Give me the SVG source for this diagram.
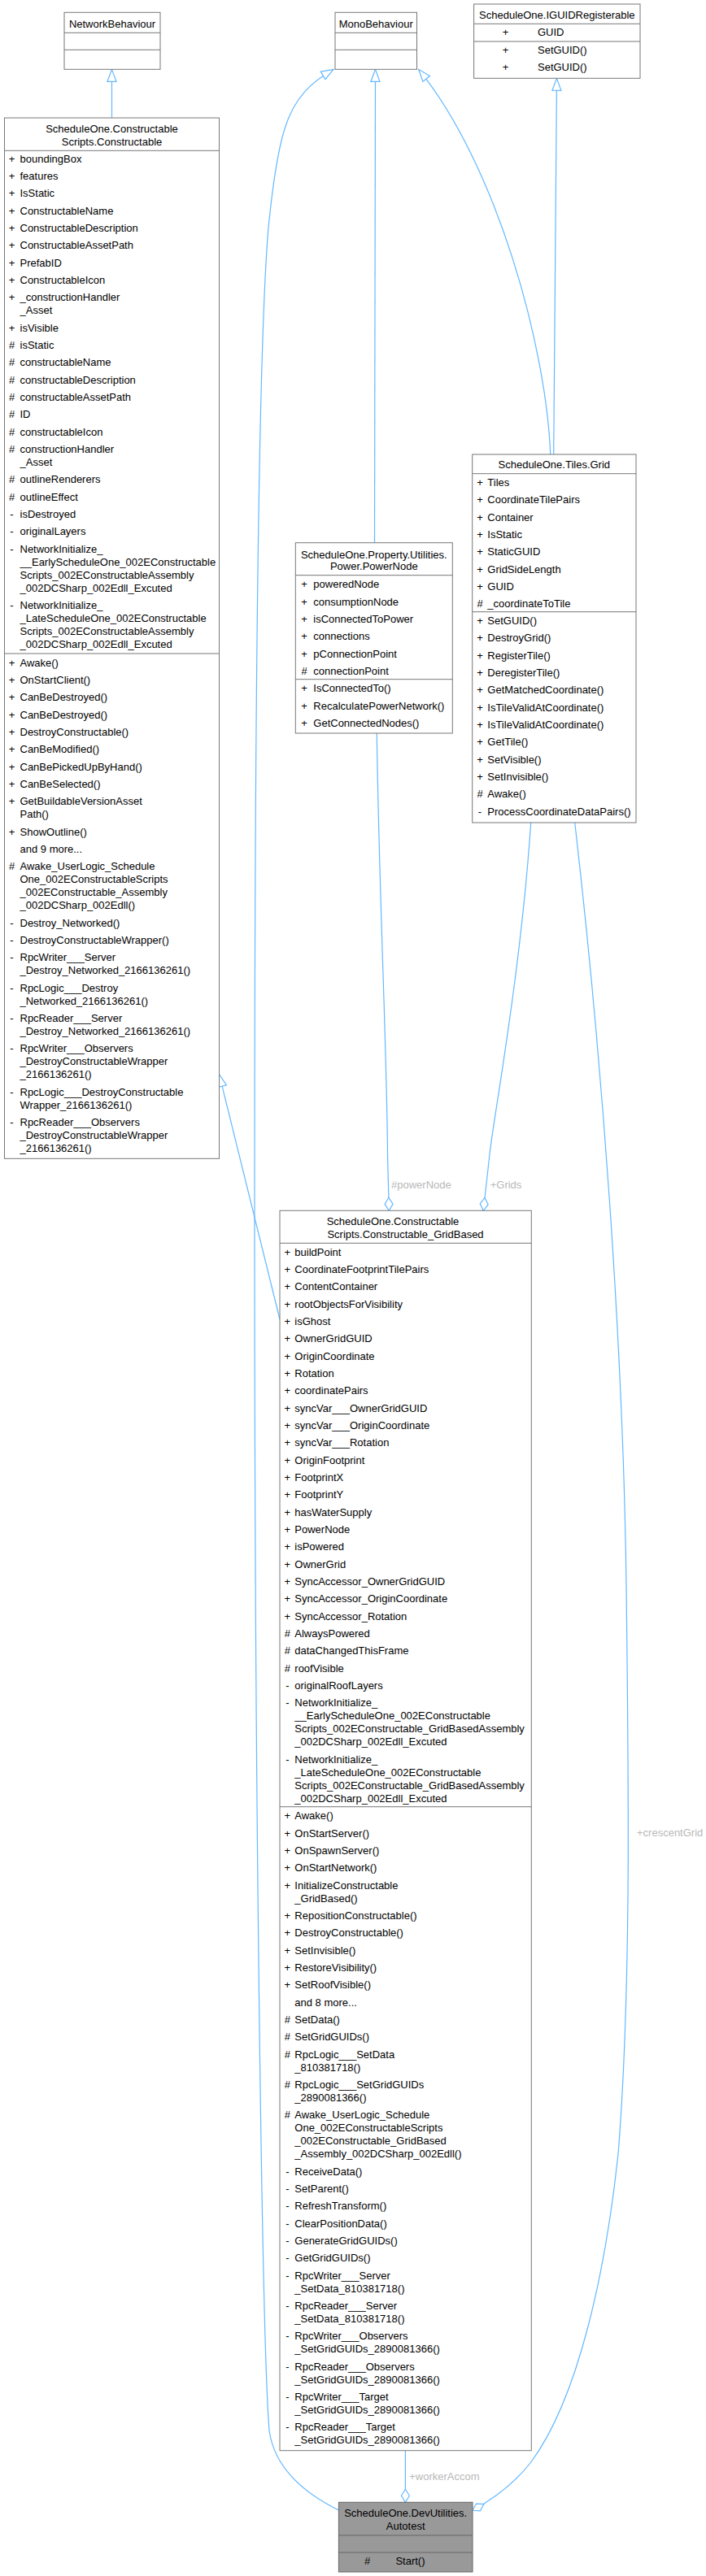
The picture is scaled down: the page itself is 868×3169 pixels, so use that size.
<svg xmlns="http://www.w3.org/2000/svg" width="868" height="3169" viewBox="0 0 868 3169">
<style>
.bx{fill:#fff;stroke:#777;stroke-width:1}
.bxh{fill:#999;stroke:#666;stroke-width:1}
.sp{stroke:#777;stroke-width:1}
text{font-family:"Liberation Sans",Arial,sans-serif;font-size:13px;fill:#000;dominant-baseline:central}
.c{text-anchor:middle}
.e{fill:none;stroke:#63b8ff;stroke-width:1.2}
.lb{fill:#b8b8b8}
</style>
<defs>
<marker id="tri" markerUnits="userSpaceOnUse" viewBox="-1 -1 17 13" markerWidth="17" markerHeight="13" refX="15" refY="5.5" orient="auto"><path d="M0,0 L15,5.5 L0,11 Z" fill="#fff" stroke="#63b8ff" stroke-width="1.2"/></marker>
<marker id="dia" markerUnits="userSpaceOnUse" viewBox="-1 -1 18 12" markerWidth="18" markerHeight="12" refX="16" refY="5" orient="auto"><path d="M0,5 L8,0 L16,5 L8,10 Z" fill="#fff" stroke="#63b8ff" stroke-width="1.2"/></marker>
</defs>

<g id="edges">
<path class="e" d="M137.5,145 L137.5,85.3" marker-end="url(#tri)"/>
<path class="e" d="M460.5,667.7 L461.5,85.3" marker-end="url(#tri)"/>
<path class="e" d="M676.7,559 C672,430 612,205 514.7,85.3" marker-end="url(#tri)"/>
<path class="e" d="M680.7,559 L684.5,96.3" marker-end="url(#tri)"/>
<path class="e" d="M344,1623 L269.5,1321.7" marker-end="url(#tri)"/>
<path class="e" d="M416.4,3088 C380,3070 338,3040 331,2990 C322,2880 313,2200 313,1500 C313,900 318,420 330,280 C336,220 342,185 349.5,160 C362,118 385,100 410,85.3" marker-end="url(#tri)"/>
<path class="e" d="M463.3,902 C466,1100 476,1300 476.5,1420 L478.3,1489.3" marker-end="url(#dia)"/>
<path class="e" d="M652.7,1012 C640,1200 606,1380 602,1420 L594.3,1489.3" marker-end="url(#dia)"/>
<path class="e" d="M498.4,3014.7 L498.4,3078.3" marker-end="url(#dia)"/>
<path class="e" d="M706.7,1012 C740,1300 766,1650 770,1950 C773,2200 776,2450 760,2650 C745,2790 712,2950 652,3030 C630,3058 605,3075 581,3088.3" marker-end="url(#dia)"/>
<text class="lb" x="481" y="1457.3">#powerNode</text>
<text class="lb" x="602.7" y="1457.3">+Grids</text>
<text class="lb" x="503.2" y="3046.7">+workerAccom</text>
<text class="lb" x="783" y="2254">+crescentGrid</text>
</g>

<g id="NetworkBehaviour">
<rect class="bx" x="79" y="15.3" width="118" height="70"/>
<line class="sp" x1="79" y1="40.3" x2="197" y2="40.3"/>
<line class="sp" x1="79" y1="61.3" x2="197" y2="61.3"/>
<text class="c" x="138" y="29">NetworkBehaviour</text>
</g>

<g id="MonoBehaviour">
<rect class="bx" x="412" y="15.3" width="100.5" height="70"/>
<line class="sp" x1="412" y1="40.3" x2="512.5" y2="40.3"/>
<line class="sp" x1="412" y1="61.3" x2="512.5" y2="61.3"/>
<text class="c" x="462.2" y="29">MonoBehaviour</text>
</g>

<g id="IGUIDRegisterable">
<rect class="bx" x="582.6" y="5" width="204.4" height="91.3"/>
<line class="sp" x1="582.6" y1="29.3" x2="787" y2="29.3"/>
<line class="sp" x1="582.6" y1="51" x2="787" y2="51"/>
<text class="c" x="684.8" y="18.5">ScheduleOne.IGUIDRegisterable</text>
<text class="c" x="621.6" y="39.7">+</text><text x="661" y="39.7">GUID</text>
<text class="c" x="621.6" y="61.7">+</text><text x="661" y="61.7">SetGUID()</text>
<text class="c" x="621.6" y="82.7">+</text><text x="661" y="82.7">SetGUID()</text>
</g>

<g id="Constructable">
<rect class="bx" x="5.5" y="145" width="264" height="1280.3"/>
<line class="sp" x1="5.5" y1="185.3" x2="269.5" y2="185.3"/>
<line class="sp" x1="5.5" y1="804" x2="269.5" y2="804"/>
<text class="c" x="137.5" y="158.3">ScheduleOne.Constructable</text>
<text class="c" x="137.5" y="174.3">Scripts.Constructable</text>
<text class="c" x="14.5" y="195">+</text><text x="24.5" y="195">boundingBox</text>
<text class="c" x="14.5" y="216.3">+</text><text x="24.5" y="216.3">features</text>
<text class="c" x="14.5" y="237.7">+</text><text x="24.5" y="237.7">IsStatic</text>
<text class="c" x="14.5" y="259">+</text><text x="24.5" y="259">ConstructableName</text>
<text class="c" x="14.5" y="280.3">+</text><text x="24.5" y="280.3">ConstructableDescription</text>
<text class="c" x="14.5" y="301.7">+</text><text x="24.5" y="301.7">ConstructableAssetPath</text>
<text class="c" x="14.5" y="323">+</text><text x="24.5" y="323">PrefabID</text>
<text class="c" x="14.5" y="344.3">+</text><text x="24.5" y="344.3">ConstructableIcon</text>
<text class="c" x="14.5" y="365.7">+</text><text x="24.5" y="365.7">_constructionHandler</text><text x="24.5" y="381.7">_Asset</text>
<text class="c" x="14.5" y="403">+</text><text x="24.5" y="403">isVisible</text>
<text class="c" x="14.5" y="424.3">#</text><text x="24.5" y="424.3">isStatic</text>
<text class="c" x="14.5" y="445.7">#</text><text x="24.5" y="445.7">constructableName</text>
<text class="c" x="14.5" y="467">#</text><text x="24.5" y="467">constructableDescription</text>
<text class="c" x="14.5" y="488.3">#</text><text x="24.5" y="488.3">constructableAssetPath</text>
<text class="c" x="14.5" y="509.7">#</text><text x="24.5" y="509.7">ID</text>
<text class="c" x="14.5" y="531">#</text><text x="24.5" y="531">constructableIcon</text>
<text class="c" x="14.5" y="552.3">#</text><text x="24.5" y="552.3">constructionHandler</text><text x="24.5" y="568.3">_Asset</text>
<text class="c" x="14.5" y="589.7">#</text><text x="24.5" y="589.7">outlineRenderers</text>
<text class="c" x="14.5" y="611">#</text><text x="24.5" y="611">outlineEffect</text>
<text class="c" x="14.5" y="632.3">-</text><text x="24.5" y="632.3">isDestroyed</text>
<text class="c" x="14.5" y="653.7">-</text><text x="24.5" y="653.7">originalLayers</text>
<text class="c" x="14.5" y="675">-</text><text x="24.5" y="675">NetworkInitialize_</text><text x="24.5" y="691">__EarlyScheduleOne_002EConstructable</text><text x="24.5" y="707">Scripts_002EConstructableAssembly</text><text x="24.5" y="723">_002DCSharp_002Edll_Excuted</text>
<text class="c" x="14.5" y="744.3">-</text><text x="24.5" y="744.3">NetworkInitialize_</text><text x="24.5" y="760.3">_LateScheduleOne_002EConstructable</text><text x="24.5" y="776.3">Scripts_002EConstructableAssembly</text><text x="24.5" y="792.3">_002DCSharp_002Edll_Excuted</text>
<text class="c" x="14.5" y="815">+</text><text x="24.5" y="815">Awake()</text>
<text class="c" x="14.5" y="836.3">+</text><text x="24.5" y="836.3">OnStartClient()</text>
<text class="c" x="14.5" y="857.7">+</text><text x="24.5" y="857.7">CanBeDestroyed()</text>
<text class="c" x="14.5" y="879">+</text><text x="24.5" y="879">CanBeDestroyed()</text>
<text class="c" x="14.5" y="900.3">+</text><text x="24.5" y="900.3">DestroyConstructable()</text>
<text class="c" x="14.5" y="921.7">+</text><text x="24.5" y="921.7">CanBeModified()</text>
<text class="c" x="14.5" y="943">+</text><text x="24.5" y="943">CanBePickedUpByHand()</text>
<text class="c" x="14.5" y="964.3">+</text><text x="24.5" y="964.3">CanBeSelected()</text>
<text class="c" x="14.5" y="985.7">+</text><text x="24.5" y="985.7">GetBuildableVersionAsset</text><text x="24.5" y="1001.7">Path()</text>
<text class="c" x="14.5" y="1023">+</text><text x="24.5" y="1023">ShowOutline()</text>
<text x="24.5" y="1044.3">and 9 more...</text>
<text class="c" x="14.5" y="1065.7">#</text><text x="24.5" y="1065.7">Awake_UserLogic_Schedule</text><text x="24.5" y="1081.7">One_002EConstructableScripts</text><text x="24.5" y="1097.7">_002EConstructable_Assembly</text><text x="24.5" y="1113.7">_002DCSharp_002Edll()</text>
<text class="c" x="14.5" y="1135">-</text><text x="24.5" y="1135">Destroy_Networked()</text>
<text class="c" x="14.5" y="1156.3">-</text><text x="24.5" y="1156.3">DestroyConstructableWrapper()</text>
<text class="c" x="14.5" y="1177.7">-</text><text x="24.5" y="1177.7">RpcWriter___Server</text><text x="24.5" y="1193.7">_Destroy_Networked_2166136261()</text>
<text class="c" x="14.5" y="1215">-</text><text x="24.5" y="1215">RpcLogic___Destroy</text><text x="24.5" y="1231">_Networked_2166136261()</text>
<text class="c" x="14.5" y="1252.3">-</text><text x="24.5" y="1252.3">RpcReader___Server</text><text x="24.5" y="1268.3">_Destroy_Networked_2166136261()</text>
<text class="c" x="14.5" y="1289.7">-</text><text x="24.5" y="1289.7">RpcWriter___Observers</text><text x="24.5" y="1305.7">_DestroyConstructableWrapper</text><text x="24.5" y="1321.7">_2166136261()</text>
<text class="c" x="14.5" y="1343">-</text><text x="24.5" y="1343">RpcLogic___DestroyConstructable</text><text x="24.5" y="1359">Wrapper_2166136261()</text>
<text class="c" x="14.5" y="1380.3">-</text><text x="24.5" y="1380.3">RpcReader___Observers</text><text x="24.5" y="1396.3">_DestroyConstructableWrapper</text><text x="24.5" y="1412.3">_2166136261()</text>
</g>

<g id="PowerNode">
<rect class="bx" x="363.3" y="667.7" width="193" height="234.3"/>
<line class="sp" x1="363.3" y1="707.7" x2="556.3" y2="707.7"/>
<line class="sp" x1="363.3" y1="835.7" x2="556.3" y2="835.7"/>
<text class="c" x="459.8" y="682">ScheduleOne.Property.Utilities.</text>
<text class="c" x="459.8" y="696.7">Power.PowerNode</text>
<text class="c" x="374" y="718.7">+</text><text x="385.3" y="718.7">poweredNode</text>
<text class="c" x="374" y="740">+</text><text x="385.3" y="740">consumptionNode</text>
<text class="c" x="374" y="761.3">+</text><text x="385.3" y="761.3">isConnectedToPower</text>
<text class="c" x="374" y="782.7">+</text><text x="385.3" y="782.7">connections</text>
<text class="c" x="374" y="804">+</text><text x="385.3" y="804">pConnectionPoint</text>
<text class="c" x="374" y="825.3">#</text><text x="385.3" y="825.3">connectionPoint</text>
<text class="c" x="374" y="846.7">+</text><text x="385.3" y="846.7">IsConnectedTo()</text>
<text class="c" x="374" y="868">+</text><text x="385.3" y="868">RecalculatePowerNetwork()</text>
<text class="c" x="374" y="889.3">+</text><text x="385.3" y="889.3">GetConnectedNodes()</text>
</g>

<g id="Grid">
<rect class="bx" x="580.7" y="559" width="201.3" height="453"/>
<line class="sp" x1="580.7" y1="582.7" x2="782" y2="582.7"/>
<line class="sp" x1="580.7" y1="752.7" x2="782" y2="752.7"/>
<text class="c" x="681.3" y="571.7">ScheduleOne.Tiles.Grid</text>
<text class="c" x="590" y="593.3">+</text><text x="599.3" y="593.3">Tiles</text>
<text class="c" x="590" y="614.7">+</text><text x="599.3" y="614.7">CoordinateTilePairs</text>
<text class="c" x="590" y="636">+</text><text x="599.3" y="636">Container</text>
<text class="c" x="590" y="657.3">+</text><text x="599.3" y="657.3">IsStatic</text>
<text class="c" x="590" y="678.7">+</text><text x="599.3" y="678.7">StaticGUID</text>
<text class="c" x="590" y="700">+</text><text x="599.3" y="700">GridSideLength</text>
<text class="c" x="590" y="721.3">+</text><text x="599.3" y="721.3">GUID</text>
<text class="c" x="590" y="742.7">#</text><text x="599.3" y="742.7">_coordinateToTile</text>
<text class="c" x="590" y="763.3">+</text><text x="599.3" y="763.3">SetGUID()</text>
<text class="c" x="590" y="784.7">+</text><text x="599.3" y="784.7">DestroyGrid()</text>
<text class="c" x="590" y="806">+</text><text x="599.3" y="806">RegisterTile()</text>
<text class="c" x="590" y="827.3">+</text><text x="599.3" y="827.3">DeregisterTile()</text>
<text class="c" x="590" y="848.7">+</text><text x="599.3" y="848.7">GetMatchedCoordinate()</text>
<text class="c" x="590" y="870">+</text><text x="599.3" y="870">IsTileValidAtCoordinate()</text>
<text class="c" x="590" y="891.3">+</text><text x="599.3" y="891.3">IsTileValidAtCoordinate()</text>
<text class="c" x="590" y="912.7">+</text><text x="599.3" y="912.7">GetTile()</text>
<text class="c" x="590" y="934">+</text><text x="599.3" y="934">SetVisible()</text>
<text class="c" x="590" y="955.3">+</text><text x="599.3" y="955.3">SetInvisible()</text>
<text class="c" x="590" y="976.7">#</text><text x="599.3" y="976.7">Awake()</text>
<text class="c" x="590" y="998">-</text><text x="599.3" y="998">ProcessCoordinateDataPairs()</text>
</g>

<g id="Constructable_GridBased">
<rect class="bx" x="344" y="1489.3" width="309.3" height="1525.4"/>
<line class="sp" x1="344" y1="1529.3" x2="653.3" y2="1529.3"/>
<line class="sp" x1="344" y1="2222.7" x2="653.3" y2="2222.7"/>
<text x="401.7" y="1502.3">ScheduleOne.Constructable</text>
<text class="c" x="498.5" y="1518.3">Scripts.Constructable_GridBased</text>
<text class="c" x="353.3" y="1540">+</text><text x="362.3" y="1540">buildPoint</text>
<text class="c" x="353.3" y="1561.3">+</text><text x="362.3" y="1561.3">CoordinateFootprintTilePairs</text>
<text class="c" x="353.3" y="1582.7">+</text><text x="362.3" y="1582.7">ContentContainer</text>
<text class="c" x="353.3" y="1604">+</text><text x="362.3" y="1604">rootObjectsForVisibility</text>
<text class="c" x="353.3" y="1625.3">+</text><text x="362.3" y="1625.3">isGhost</text>
<text class="c" x="353.3" y="1646.7">+</text><text x="362.3" y="1646.7">OwnerGridGUID</text>
<text class="c" x="353.3" y="1668">+</text><text x="362.3" y="1668">OriginCoordinate</text>
<text class="c" x="353.3" y="1689.3">+</text><text x="362.3" y="1689.3">Rotation</text>
<text class="c" x="353.3" y="1710.7">+</text><text x="362.3" y="1710.7">coordinatePairs</text>
<text class="c" x="353.3" y="1732">+</text><text x="362.3" y="1732">syncVar___OwnerGridGUID</text>
<text class="c" x="353.3" y="1753.3">+</text><text x="362.3" y="1753.3">syncVar___OriginCoordinate</text>
<text class="c" x="353.3" y="1774.7">+</text><text x="362.3" y="1774.7">syncVar___Rotation</text>
<text class="c" x="353.3" y="1796">+</text><text x="362.3" y="1796">OriginFootprint</text>
<text class="c" x="353.3" y="1817.3">+</text><text x="362.3" y="1817.3">FootprintX</text>
<text class="c" x="353.3" y="1838.7">+</text><text x="362.3" y="1838.7">FootprintY</text>
<text class="c" x="353.3" y="1860">+</text><text x="362.3" y="1860">hasWaterSupply</text>
<text class="c" x="353.3" y="1881.3">+</text><text x="362.3" y="1881.3">PowerNode</text>
<text class="c" x="353.3" y="1902.7">+</text><text x="362.3" y="1902.7">isPowered</text>
<text class="c" x="353.3" y="1924">+</text><text x="362.3" y="1924">OwnerGrid</text>
<text class="c" x="353.3" y="1945.3">+</text><text x="362.3" y="1945.3">SyncAccessor_OwnerGridGUID</text>
<text class="c" x="353.3" y="1966.7">+</text><text x="362.3" y="1966.7">SyncAccessor_OriginCoordinate</text>
<text class="c" x="353.3" y="1988">+</text><text x="362.3" y="1988">SyncAccessor_Rotation</text>
<text class="c" x="353.3" y="2009.3">#</text><text x="362.3" y="2009.3">AlwaysPowered</text>
<text class="c" x="353.3" y="2030.7">#</text><text x="362.3" y="2030.7">dataChangedThisFrame</text>
<text class="c" x="353.3" y="2052">#</text><text x="362.3" y="2052">roofVisible</text>
<text class="c" x="353.3" y="2073.3">-</text><text x="362.3" y="2073.3">originalRoofLayers</text>
<text class="c" x="353.3" y="2094.7">-</text><text x="362.3" y="2094.7">NetworkInitialize_</text><text x="362.3" y="2110.7">__EarlyScheduleOne_002EConstructable</text><text x="362.3" y="2126.7">Scripts_002EConstructable_GridBasedAssembly</text><text x="362.3" y="2142.7">_002DCSharp_002Edll_Excuted</text>
<text class="c" x="353.3" y="2164">-</text><text x="362.3" y="2164">NetworkInitialize_</text><text x="362.3" y="2180">_LateScheduleOne_002EConstructable</text><text x="362.3" y="2196">Scripts_002EConstructable_GridBasedAssembly</text><text x="362.3" y="2212">_002DCSharp_002Edll_Excuted</text>
<text class="c" x="353.3" y="2233.7">+</text><text x="362.3" y="2233.7">Awake()</text>
<text class="c" x="353.3" y="2255">+</text><text x="362.3" y="2255">OnStartServer()</text>
<text class="c" x="353.3" y="2276.3">+</text><text x="362.3" y="2276.3">OnSpawnServer()</text>
<text class="c" x="353.3" y="2297.7">+</text><text x="362.3" y="2297.7">OnStartNetwork()</text>
<text class="c" x="353.3" y="2319">+</text><text x="362.3" y="2319">InitializeConstructable</text><text x="362.3" y="2335">_GridBased()</text>
<text class="c" x="353.3" y="2356.3">+</text><text x="362.3" y="2356.3">RepositionConstructable()</text>
<text class="c" x="353.3" y="2377.7">+</text><text x="362.3" y="2377.7">DestroyConstructable()</text>
<text class="c" x="353.3" y="2399">+</text><text x="362.3" y="2399">SetInvisible()</text>
<text class="c" x="353.3" y="2420.3">+</text><text x="362.3" y="2420.3">RestoreVisibility()</text>
<text class="c" x="353.3" y="2441.7">+</text><text x="362.3" y="2441.7">SetRoofVisible()</text>
<text x="362.3" y="2463">and 8 more...</text>
<text class="c" x="353.3" y="2484.3">#</text><text x="362.3" y="2484.3">SetData()</text>
<text class="c" x="353.3" y="2505.7">#</text><text x="362.3" y="2505.7">SetGridGUIDs()</text>
<text class="c" x="353.3" y="2527">#</text><text x="362.3" y="2527">RpcLogic___SetData</text><text x="362.3" y="2543">_810381718()</text>
<text class="c" x="353.3" y="2564.3">#</text><text x="362.3" y="2564.3">RpcLogic___SetGridGUIDs</text><text x="362.3" y="2580.3">_2890081366()</text>
<text class="c" x="353.3" y="2601.7">#</text><text x="362.3" y="2601.7">Awake_UserLogic_Schedule</text><text x="362.3" y="2617.7">One_002EConstructableScripts</text><text x="362.3" y="2633.7">_002EConstructable_GridBased</text><text x="362.3" y="2649.7">_Assembly_002DCSharp_002Edll()</text>
<text class="c" x="353.3" y="2671">-</text><text x="362.3" y="2671">ReceiveData()</text>
<text class="c" x="353.3" y="2692.3">-</text><text x="362.3" y="2692.3">SetParent()</text>
<text class="c" x="353.3" y="2713.7">-</text><text x="362.3" y="2713.7">RefreshTransform()</text>
<text class="c" x="353.3" y="2735">-</text><text x="362.3" y="2735">ClearPositionData()</text>
<text class="c" x="353.3" y="2756.3">-</text><text x="362.3" y="2756.3">GenerateGridGUIDs()</text>
<text class="c" x="353.3" y="2777.7">-</text><text x="362.3" y="2777.7">GetGridGUIDs()</text>
<text class="c" x="353.3" y="2799">-</text><text x="362.3" y="2799">RpcWriter___Server</text><text x="362.3" y="2815">_SetData_810381718()</text>
<text class="c" x="353.3" y="2836.3">-</text><text x="362.3" y="2836.3">RpcReader___Server</text><text x="362.3" y="2852.3">_SetData_810381718()</text>
<text class="c" x="353.3" y="2873.7">-</text><text x="362.3" y="2873.7">RpcWriter___Observers</text><text x="362.3" y="2889.7">_SetGridGUIDs_2890081366()</text>
<text class="c" x="353.3" y="2911">-</text><text x="362.3" y="2911">RpcReader___Observers</text><text x="362.3" y="2927">_SetGridGUIDs_2890081366()</text>
<text class="c" x="353.3" y="2948.3">-</text><text x="362.3" y="2948.3">RpcWriter___Target</text><text x="362.3" y="2964.3">_SetGridGUIDs_2890081366()</text>
<text class="c" x="353.3" y="2985.7">-</text><text x="362.3" y="2985.7">RpcReader___Target</text><text x="362.3" y="3001.7">_SetGridGUIDs_2890081366()</text>
</g>

<g id="Autotest">
<rect class="bxh" x="416.4" y="3078.3" width="164.6" height="85.7"/>
<line x1="416.4" y1="3119" x2="581" y2="3119" stroke="#666"/>
<line x1="416.4" y1="3140" x2="581" y2="3140" stroke="#666"/>
<text class="c" x="498.7" y="3091.7">ScheduleOne.DevUtilities.</text>
<text class="c" x="498.7" y="3107.7">Autotest</text>
<text class="c" x="451.7" y="3150.7">#</text><text x="486.4" y="3150.7">Start()</text>
</g>
</svg>
